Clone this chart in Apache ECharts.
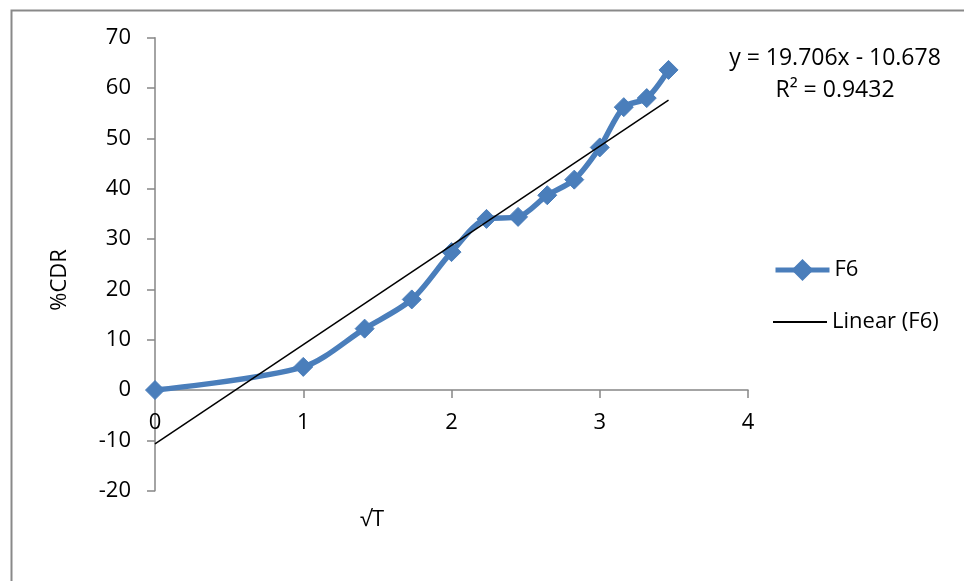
<!DOCTYPE html>
<html>
<head>
<meta charset="utf-8">
<script src="https://cdn.jsdelivr.net/npm/echarts@6/dist/echarts.min.js"></script>
<style>
html,body{margin:0;padding:0;background:#fff;}
#chart{width:964px;height:581px;}
</style>
</head>
<body>
<div id="chart"></div>
<script>
// sqrt(T) values (x) and %CDR values (y)
const sqrtT = [0, 1, 1.414, 1.732, 2, 2.236, 2.449, 2.646, 2.828, 3, 3.162, 3.317, 3.464];
const cdrF6 = [0, 4.6, 12.2, 18.0, 27.4, 34.0, 34.4, 38.7, 41.8, 48.2, 56.2, 58.0, 63.6];
const trendSlope = 19.706;
const trendIntercept = -10.678;
const trendLabel = ['y = 19.706x - 10.678', 'R² = 0.9432'];
const xTicks = [0, 1, 2, 3, 4];
const yTicks = [-20, -10, 0, 10, 20, 30, 40, 50, 60, 70];
const seriesNames = ['F6', 'Linear (F6)'];

const FONT = '"Open Sans", "Liberation Sans", sans-serif';
const f6Data = sqrtT.map((x, i) => [x, cdrF6[i]]);
const xEnd = sqrtT[sqrtT.length - 1];
const trendData = [[0, trendIntercept], [xEnd, trendSlope * xEnd + trendIntercept]];

const GRID_TOP = 37.7, GRID_BOTTOM_PX = 490.7;
const yMin = yTicks[0], yMax = yTicks[yTicks.length - 1];
// place the x axis at y = 0 (offset from the grid bottom, computed via scale ratio)
const zeroOffset = -(GRID_BOTTOM_PX - GRID_TOP) * (0 - yMin) / (yMax - yMin);

const chart = echarts.init(document.getElementById('chart'), null, {renderer: 'canvas'});
chart.setOption({
  animation: false,
  backgroundColor: '#fff',
  grid: {left: 155, top: GRID_TOP, right: 216, bottom: 581 - GRID_BOTTOM_PX, containLabel: false},
  xAxis: {
    type: 'value',
    min: xTicks[0], max: xTicks[xTicks.length - 1], interval: 1,
    offset: zeroOffset,
    axisLine: {onZero: false, lineStyle: {color: '#868686', width: 1.5}},
    axisTick: {show: true, inside: false, length: 8, lineStyle: {color: '#868686', width: 1.5}},
    axisLabel: {color: '#000', fontSize: 22, fontFamily: FONT, margin: 22},
    splitLine: {show: false}
  },
  yAxis: {
    type: 'value',
    min: yMin, max: yMax, interval: 10,
    axisLine: {show: true, onZero: false, lineStyle: {color: '#868686', width: 1.5}},
    axisTick: {show: true, inside: false, length: 8, lineStyle: {color: '#868686', width: 1.5}},
    axisLabel: {color: '#000', fontSize: 22, fontFamily: FONT, margin: 24},
    splitLine: {show: false}
  },
  legend: [
    {
      orient: 'vertical', left: 773, top: 259, padding: 0,
      itemWidth: 54, itemHeight: 24, itemGap: 5,
      textStyle: {color: '#000', fontSize: 22, fontFamily: FONT},
      lineStyle: {width: 5},
      data: [{name: seriesNames[0], lineStyle: {width: 5, color: '#4A7EBB'}}]
    },
    {
      orient: 'vertical', left: 773, top: 311, padding: 0,
      itemWidth: 54, itemHeight: 2,
      icon: 'rect',
      textStyle: {color: '#000', fontSize: 22, fontFamily: FONT},
      data: [{name: seriesNames[1], icon: 'rect', itemStyle: {color: '#000'}}]
    }
  ],
  series: [
    {
      name: seriesNames[0],
      type: 'line',
      data: f6Data,
      smooth: 0.3,
      symbol: 'diamond',
      symbolSize: 19,
      lineStyle: {color: '#4A7EBB', width: 5.5},
      itemStyle: {color: '#4A7EBB', borderColor: '#4A7EBB', borderWidth: 1},
      z: 2
    },
    {
      name: seriesNames[1],
      type: 'line',
      data: trendData,
      symbol: 'none',
      lineStyle: {color: '#000', width: 1.5},
      itemStyle: {color: '#000'},
      z: 3
    }
  ],
  graphic: [
    {type: 'rect', left: 9, top: 8, z: -1, shape: {width: 1100, height: 1100},
     style: {fill: 'none', stroke: '#898989', lineWidth: 2}},
    {type: 'text', x: 835, y: 58, style: {text: trendLabel[0], fill: '#000', font: '23px ' + FONT, textAlign: 'center', textVerticalAlign: 'middle'}},
    {type: 'text', x: 835, y: 90, style: {text: trendLabel[1], fill: '#000', font: '23px ' + FONT, textAlign: 'center', textVerticalAlign: 'middle'}},
    {type: 'text', x: 60, y: 280, rotation: Math.PI / 2, style: {text: '%CDR', fill: '#000', font: '22px ' + FONT, textAlign: 'center', textVerticalAlign: 'middle'}},
    {type: 'text', x: 372, y: 520, style: {text: '√T', fill: '#000', font: '22px ' + FONT, textAlign: 'center', textVerticalAlign: 'middle'}}
  ]
});
</script>
</body>
</html>
